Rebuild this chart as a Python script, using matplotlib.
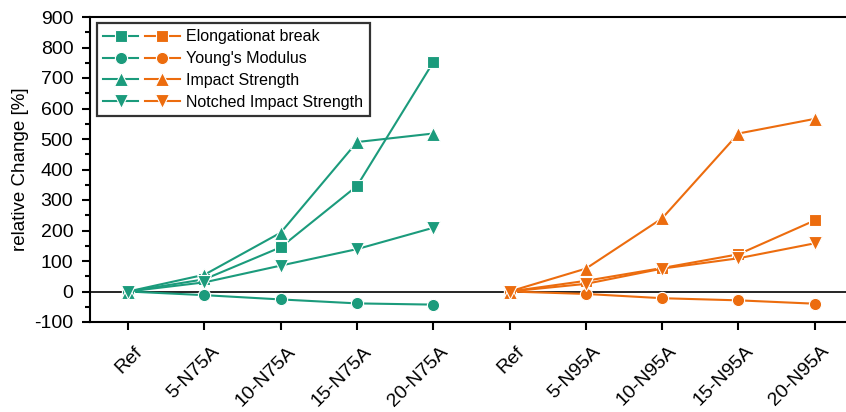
import numpy as np
import matplotlib
matplotlib.use("Agg")
import matplotlib.pyplot as plt
import matplotlib.transforms as mtransforms
from matplotlib.legend_handler import HandlerTuple

plt.rcParams['font.family'] = ['Liberation Sans', 'DejaVu Sans']
plt.rcParams['axes.unicode_minus'] = False

labels = ["Ref", "5-N75A", "10-N75A", "15-N75A", "20-N75A",
          "Ref", "5-N95A", "10-N95A", "15-N95A", "20-N95A"]

# N75A (green)
elong_75 = [0, 40, 145, 346, 752]
young_75 = [0, -12, -26, -39, -43]
impact_75 = [0, 55, 193, 490, 518]
notched_75 = [0, 30, 85, 139, 209]

# N95A (orange)
elong_95 = [0, 35, 77, 122, 233]
young_95 = [0, -8, -22, -29, -40]
impact_95 = [0, 75, 240, 518, 566]
notched_95 = [0, 25, 75, 109, 158]

series_names = ["Elongationat break", "Young's Modulus", "Impact Strength",
                "Notched Impact Strength"]
markers = ["s", "o", "^", "v"]

green = "#1b9b7c"
orange = "#ec6c0e"

x75 = np.arange(5)
x95 = np.arange(5, 10)

fig = plt.figure(figsize=(8.46, 4.12), dpi=100)
ax = fig.add_axes([90 / 846, 90 / 412, 1 - 90 / 846, 305 / 412])

ax.axhline(0, color="black", lw=1.2, zorder=1)

handles = []
for name, m, d75, d95 in zip(series_names, markers,
                             [elong_75, young_75, impact_75, notched_75],
                             [elong_95, young_95, impact_95, notched_95]):
    ms = 10 if m in "^v" else 8.8
    h1, = ax.plot(x75, d75, color=green, marker=m, ms=ms, lw=1.5,
                  mec="white", mew=0.8, zorder=3)
    h2, = ax.plot(x95, d95, color=orange, marker=m, ms=ms, lw=1.5,
                  mec="white", mew=0.8, zorder=3)
    handles.append((h1, h2))

ax.set_xlim(-0.5, 9.41)
ax.set_ylim(-100, 900)
ax.set_yticks(np.arange(-100, 901, 100))
ax.set_yticks(np.arange(-100, 901, 50), minor=True)
ax.set_xticks(np.arange(10))
ax.set_xticklabels(labels, rotation=45, ha="right", rotation_mode="anchor")
ax.tick_params(axis="both", which="major", direction="out", length=6,
               width=1.5, labelsize=14)
ax.tick_params(axis="y", which="minor", direction="out", length=3.5, width=1.5)
ax.tick_params(axis="x", pad=9)
ax.tick_params(axis="y", pad=6)
offset = mtransforms.ScaledTranslation(6 / 100, 0, fig.dpi_scale_trans)
for lab in ax.get_xticklabels():
    lab.set_transform(lab.get_transform() + offset)
ax.spines["right"].set_visible(False)
for s in ["left", "bottom", "top"]:
    ax.spines[s].set_linewidth(1.5)
ax.set_ylabel("relative Change [%]", fontsize=13.5)

leg = ax.legend(handles, series_names, loc="upper left",
                handler_map={tuple: HandlerTuple(ndivide=None, pad=0.4)},
                handlelength=4.8, fontsize=11.5, frameon=True, fancybox=False,
                edgecolor="black", borderpad=0.4, labelspacing=0.42,
                borderaxespad=0, bbox_to_anchor=(0.009, 0.98),
                handletextpad=0.4)
leg.get_frame().set_linewidth(1.6)

fig.savefig("out.png", dpi=100)
